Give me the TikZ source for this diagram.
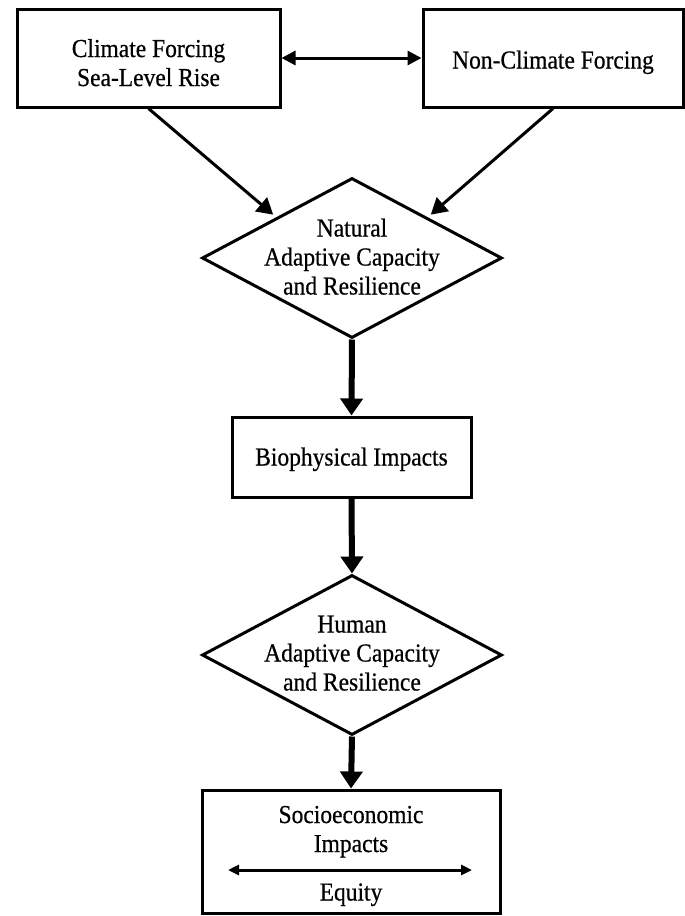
\documentclass[tikz,border=0pt]{standalone}
\usepackage{fontspec}
\usepackage{graphicx}
\setmainfont{Liberation Serif}[FakeBold=0.6]
\usetikzlibrary{shapes.geometric,arrows.meta}
\newcommand{\vs}[1]{\raisebox{0pt}[18pt][5pt]{\scalebox{1}[1.1]{#1}}}
\tikzset{
  boxnode/.style={draw=black,line width=3pt,rectangle,inner sep=0pt,fill=white},
  dianode/.style={draw=black,line width=3pt,diamond,inner sep=0pt,minimum width=300pt,minimum height=160pt},
  txt/.style={align=center,inner sep=0pt,font=\fontsize{23.5}{29}\selectfont},
  thinarrow/.style={line width=3pt,-{Triangle[length=16pt,width=18pt]}},
  dblarrow/.style={line width=3pt,{Triangle[length=14pt,width=14pt]}-{Triangle[length=14pt,width=14pt]}},
  thickarrow/.style={line width=6pt,-{Triangle[length=17pt,width=22pt]}},
  eqarrow/.style={line width=3pt,{Triangle[length=11pt,width=10pt]}-{Triangle[length=11pt,width=10pt]}}
}
\begin{document}
\begin{tikzpicture}[x=1pt,y=-1pt]
\useasboundingbox (0,0) rectangle (685,916);
% boxes
\node[boxnode,minimum width=263pt,minimum height=98pt] (b1) at (148.5,58) {};
\node[boxnode,minimum width=260pt,minimum height=98pt] (b2) at (553,58) {};
\node[boxnode,minimum width=239pt,minimum height=80pt] (b3) at (351.5,457) {};
\node[boxnode,minimum width=298pt,minimum height=123pt] (b4) at (351,851.5) {};
% diamonds
\node[dianode] (d1) at (352,258) {};
\node[dianode] (d2) at (352,655) {};
% texts
\node[txt] (t1) at (148.5,65) {\vs{Climate Forcing}\\\vs{Sea-Level Rise}};
\node[txt] (t2) at (553,62) {\vs{Non-Climate Forcing}};
\node[txt] (t3) at (352,259) {\vs{Natural}\\\vs{Adaptive Capacity}\\\vs{and Resilience}};
\node[txt] (t4) at (351.5,459) {\vs{Biophysical Impacts}};
\node[txt] (t5) at (352,655) {\vs{Human}\\\vs{Adaptive Capacity}\\\vs{and Resilience}};
\node[txt] (t6) at (351,831) {\vs{Socioeconomic}\\\vs{Impacts}};
\node[txt] (t7) at (351,894) {\vs{Equity}};
\coordinate (eqL) at (228,870);
\coordinate (eqR) at (472,870);
% connectors
\draw[dblarrow] (b1.east) -- (b2.west);
\draw[thinarrow,shorten >=4pt] (b1.south) -- (d1.north west);
\draw[thinarrow,shorten >=4pt] (b2.south) -- (d1.north east);
\draw[thickarrow] (d1.south) -- (b3.north);
\draw[thickarrow] (b3.south) -- (d2.north);
\draw[thickarrow] (d2.south) -- (b4.north);
\draw[eqarrow] (eqL) -- (eqR);
\end{tikzpicture}
\end{document}
